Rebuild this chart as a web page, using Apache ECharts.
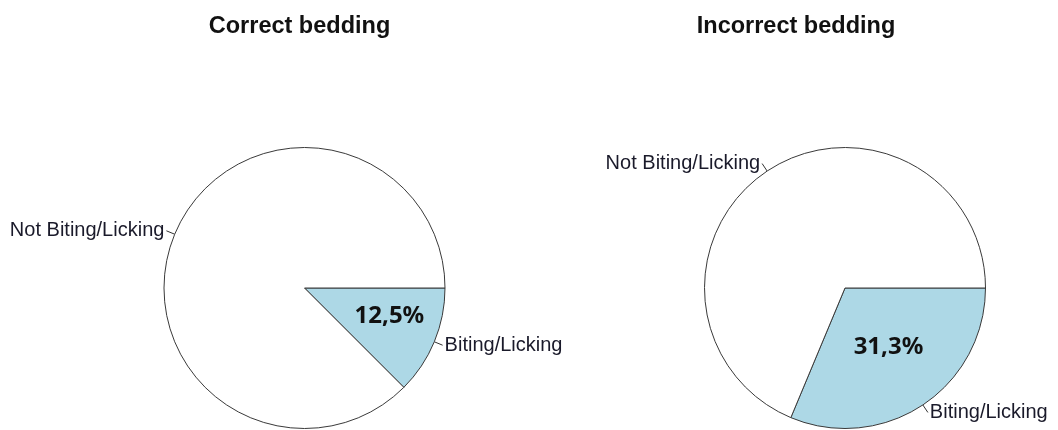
<!DOCTYPE html>
<html>
<head>
<meta charset="utf-8">
<script src="https://cdn.jsdelivr.net/npm/echarts@6/dist/echarts.min.js"></script>
<style>html,body{margin:0;padding:0;background:#fff}#c{width:1058px;height:430px}</style>
</head>
<body>
<div id="c"></div>
<script>
const titles = ['Correct bedding', 'Incorrect bedding'];
const categories = ['Biting/Licking', 'Not Biting/Licking'];
const correctValues = [12.5, 87.5];
const incorrectValues = [31.3, 68.7];

const chart = echarts.init(document.getElementById('c'), null, {renderer: 'canvas'});
const centers = [[304.5, 288], [845, 288]];
const titleX = [294.5, 791];
const R = 140.5;
const fills = ['#ADD8E6', '#FFFFFF'];
const pctRadius = [180, 140];
const pctOffset = [[-1, -7], [3, -2]];
const allValues = [correctValues, incorrectValues];

function mkData(vals) {
  return categories.map((c, i) => ({name: c, value: vals[i], itemStyle: {color: fills[i]}}));
}

const series = [];
allValues.forEach((vals, k) => {
  series.push({
    type: 'pie',
    center: centers[k],
    radius: R,
    startAngle: 0,
    clockwise: true,
    animation: false,
    silent: true,
    avoidLabelOverlap: false,
    itemStyle: {borderColor: '#3a3a3a', borderWidth: 1},
    label: {
      show: true, position: 'outside', formatter: '{b}',
      fontFamily: '"Liberation Sans", Arial, sans-serif', fontSize: 20, color: '#1a1a2a',
      distanceToLabelLine: 2
    },
    labelLine: {show: true, length: 9, length2: 0, smooth: false, lineStyle: {color: '#333', width: 1}},
    emphasis: {disabled: true},
    data: mkData(vals)
  });
  series.push({
    type: 'pie',
    center: centers[k],
    radius: pctRadius[k],
    startAngle: 0,
    clockwise: true,
    animation: false,
    silent: true,
    z: 5,
    itemStyle: {color: 'rgba(0,0,0,0)', borderWidth: 0},
    label: {
      show: true, position: 'inside', offset: pctOffset[k],
      formatter: p => p.dataIndex === 0 ? String(p.value).replace('.', ',') + '%' : '',
      fontFamily: '"Noto Sans", "Open Sans", sans-serif', fontWeight: 'bold', fontSize: 24, color: '#111'
    },
    labelLine: {show: false},
    emphasis: {disabled: true},
    data: categories.map((c, i) => ({name: c, value: vals[i]}))
  });
});

chart.setOption({
  backgroundColor: '#ffffff',
  title: titles.map((t, k) => ({
    text: t, left: titleX[k], top: 10, textAlign: 'center',
    textStyle: {fontFamily: '"Liberation Sans", Arial, sans-serif', fontWeight: 'bold', fontSize: 23.5, color: '#111'}
  })),
  series: series
});
</script>
</body>
</html>
